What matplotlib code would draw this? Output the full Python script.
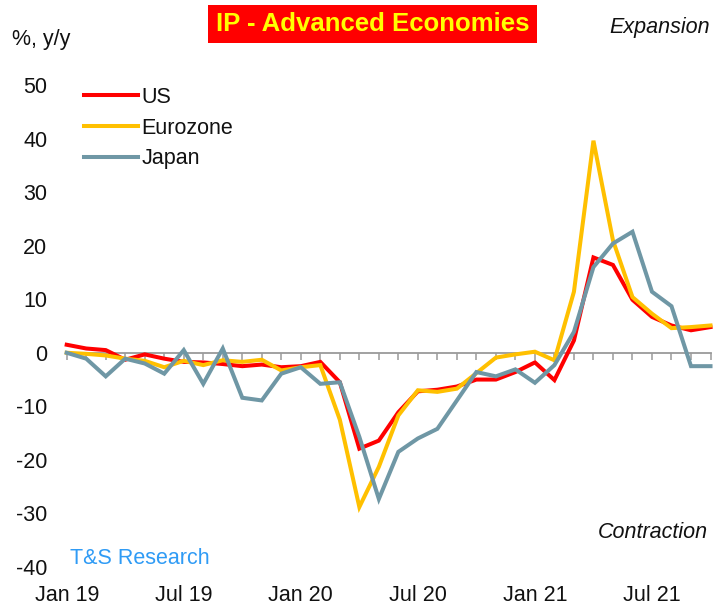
import matplotlib
matplotlib.use("Agg")
import matplotlib.pyplot as plt
from matplotlib.patches import Rectangle

plt.rcParams['font.family'] = ['Liberation Sans', 'DejaVu Sans']

months = ["Jan 19", "Feb 19", "Mar 19", "Apr 19", "May 19", "Jun 19", "Jul 19", "Aug 19",
          "Sep 19", "Oct 19", "Nov 19", "Dec 19", "Jan 20", "Feb 20", "Mar 20", "Apr 20",
          "May 20", "Jun 20", "Jul 20", "Aug 20", "Sep 20", "Oct 20", "Nov 20", "Dec 20",
          "Jan 21", "Feb 21", "Mar 21", "Apr 21", "May 21", "Jun 21", "Jul 21", "Aug 21",
          "Sep 21", "Oct 21"]

us = [1.5, 0.8, 0.5, -1.3, -0.3, -1.1, -1.7, -1.8, -2.1, -2.5, -2.2, -2.7, -2.5, -1.7,
      -5.5, -17.9, -16.4, -11.1, -7.2, -6.9, -6.3, -5.0, -5.0, -3.6, -1.8, -5.1, 2.3,
      17.8, 16.4, 9.9, 6.7, 5.1, 4.2, 4.8]
eurozone = [0.0, -0.2, -0.5, -1.1, -1.5, -2.7, -1.5, -2.3, -1.4, -1.7, -1.3, -3.3, -2.7,
            -2.3, -12.5, -28.8, -21.3, -11.7, -7.0, -7.3, -6.7, -3.8, -0.9, -0.3, 0.2,
            -1.4, 11.4, 39.6, 21.0, 10.4, 7.3, 4.6, 4.8, 5.1]
japan = [0.0, -1.1, -4.4, -1.1, -2.0, -3.9, 0.5, -5.8, 0.8, -8.4, -8.9, -3.9, -2.7, -5.8,
         -5.5, -15.7, -27.3, -18.5, -16.0, -14.2, -8.9, -3.6, -4.4, -3.1, -5.6, -2.3, 3.9,
         16.0, 20.4, 22.6, 11.4, 8.7, -2.5, -2.5]

series_names = ["US", "Eurozone", "Japan"]
series_colors = ["#FF0000", "#FFC000", "#6F97A5"]

label_every = 6
y_ticks = list(range(-40, 51, 10))

W, H = 713, 605
fig = plt.figure(figsize=(W / 100, H / 100), dpi=100)
ax = fig.add_axes([66.7 / W, (H - 567) / H, (710.5 - 66.7) / W, (567 - 85) / H])

x = list(range(len(months)))
for vals, name, col in zip([us, eurozone, japan], series_names, series_colors):
    ax.plot(x, vals, color=col, lw=2.9, label=name, solid_joinstyle='miter', clip_on=False)

ax.set_xlim(0, len(months) - 1)
ax.set_ylim(-40, 50)

for s in ['top', 'right', 'left']:
    ax.spines[s].set_visible(False)
ax.spines['bottom'].set_position(('data', 0))
ax.spines['bottom'].set_color('#9A9A9A')
ax.spines['bottom'].set_linewidth(1.3)
ax.spines['bottom'].set_zorder(1)
ax.set_xticks(x)
ax.set_xticklabels([])
ax.tick_params(axis='x', direction='out', length=5, width=1.1, color='#9A9A9A')

ax.set_yticks(y_ticks)
ax.set_yticklabels([str(v) for v in y_ticks])
ax.tick_params(axis='y', length=0, pad=14, labelsize=15.5, labelcolor='#111111')

sec = ax.secondary_xaxis('bottom')
sec.set_xticks(x[::label_every])
sec.set_xticklabels(months[::label_every])
sec.tick_params(length=0, pad=13, labelsize=15.5, labelcolor='#111111')
sec.spines['bottom'].set_visible(False)

leg = ax.legend(loc='upper left', bbox_to_anchor=(84.3 / W, 1 - 87 / H),
                bbox_transform=fig.transFigure, frameon=False, fontsize=15.5,
                handlelength=2.5, handletextpad=0.16, labelspacing=0.45,
                borderpad=0, borderaxespad=0)
for t in leg.get_texts():
    t.set_color('#111111')

# title box
fig.patches.append(Rectangle((208 / W, 1 - 43 / H), (537 - 208) / W, 38 / H,
                             transform=fig.transFigure, facecolor='#FF0000',
                             edgecolor='none'))
fig.text(372.5 / W, 1 - 24 / H, "IP - Advanced Economies", ha='center', va='center',
         color='#FFFF00', fontsize=18.5, fontweight='bold',
         family=['Liberation Sans', 'DejaVu Sans'])

fig.text(11.7 / W, 1 - 40 / H, "%, y/y", ha='left', va='center', fontsize=15.5,
         color='#111111')
fig.text(710 / W, 1 - 28 / H, "Expansion", ha='right', va='center', fontsize=15.5,
         style='italic', color='#111111')
fig.text(708 / W, 1 - 533 / H, "Contraction", ha='right', va='center', fontsize=15.5,
         style='italic', color='#111111')
fig.text(70 / W, 1 - 559 / H, "T&S Research", ha='left', va='center', fontsize=15.5,
         color='#2F9BF5')

fig.savefig("out.png", dpi=100)
